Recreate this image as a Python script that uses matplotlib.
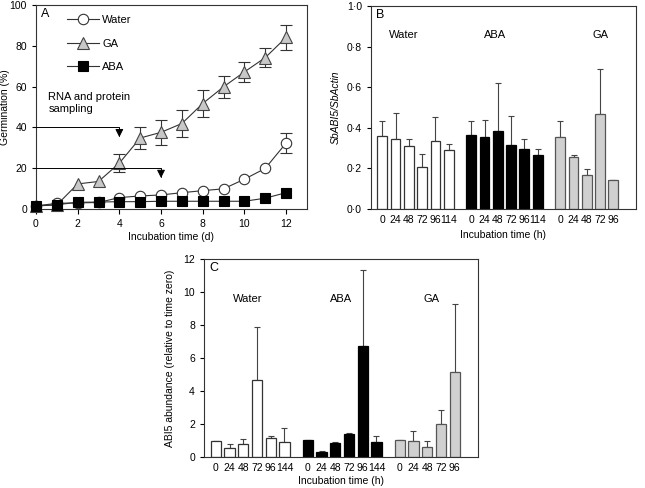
import numpy as np
import matplotlib
matplotlib.use("Agg")
import matplotlib.pyplot as plt
from matplotlib.ticker import FuncFormatter

plt.rcParams['font.family'] = ['Liberation Sans', 'DejaVu Sans']
plt.rcParams['font.size'] = 7.5

# ---- Panel A: germination time course ----
days = np.arange(13)
water_germ = [1.5, 2.8, 3.0, 3.2, 5.6, 6.4, 6.9, 8.0, 9.0, 9.9, 14.6, 19.9, 32.3]
water_germ_err = [0, 0, 0, 0, 0, 0, 0, 0, 0, 0, 0, 0, 4.8]
ga_germ = [1.5, 2.0, 12.3, 13.5, 22.5, 34.8, 37.6, 41.9, 51.7, 59.9, 67.2, 74.2, 84.1]
ga_germ_err = [0, 0, 0, 0, 4.5, 5.2, 6.0, 6.7, 6.7, 5.3, 4.7, 4.5, 6.0]
aba_germ = [1.6, 2.1, 3.3, 3.4, 3.6, 3.6, 3.8, 3.8, 3.8, 3.8, 3.8, 5.3, 8.0]

# ---- Panel B: SbABI5 transcript ----
b_water_labels = ['0', '24', '48', '72', '96', '114']
b_water = [0.358, 0.347, 0.309, 0.205, 0.336, 0.289]
b_water_top = [0.432, 0.475, 0.343, 0.272, 0.452, 0.322]
b_aba_labels = ['0', '24', '48', '72', '96', '114']
b_aba = [0.363, 0.353, 0.384, 0.317, 0.296, 0.266]
b_aba_top = [0.432, 0.437, 0.620, 0.460, 0.343, 0.294]
b_ga_labels = ['0', '24', '48', '72', '96']
b_ga = [0.356, 0.256, 0.167, 0.466, 0.145]
b_ga_top = [0.433, 0.264, 0.195, 0.688, 0.145]

# ---- Panel C: ABI5 protein ----
c_water_labels = ['0', '24', '48', '72', '96', '144']
c_water = [0.97, 0.55, 0.79, 4.67, 1.15, 0.91]
c_water_top = [0.97, 0.80, 1.09, 7.88, 1.27, 1.76]
c_aba_labels = ['0', '24', '48', '72', '96', '144']
c_aba = [1.03, 0.32, 0.85, 1.41, 6.71, 0.91]
c_aba_top = [1.03, 0.38, 0.89, 1.47, 11.31, 1.25]
c_ga_labels = ['0', '24', '48', '72', '96']
c_ga = [1.01, 0.97, 0.59, 2.0, 5.17]
c_ga_top = [1.01, 1.58, 0.98, 2.85, 9.29]

group_names = ['Water', 'ABA', 'GA']
group_starts = [0, 6.7, 13.4]
group_fills = ['white', 'black', '#d0d0d0']
group_edges = ['#333333', 'black', '#555555']

fig = plt.figure(figsize=(6.45, 4.88), dpi=100)
axA = fig.add_axes([0.0558, 0.5717, 0.420, 0.418])
axB = fig.add_axes([0.575, 0.5717, 0.411, 0.416])
axC = fig.add_axes([0.3163, 0.0635, 0.4248, 0.4057])

# Panel A
ga_err = np.array(ga_germ_err)
w_err = np.array(water_germ_err)
m = ga_err > 0
axA.errorbar(days[m], np.array(ga_germ)[m], yerr=ga_err[m], fmt='none',
             ecolor='#333333', elinewidth=0.8, capsize=4, capthick=0.8, clip_on=False)
m = w_err > 0
axA.errorbar(days[m], np.array(water_germ)[m], yerr=w_err[m], fmt='none',
             ecolor='#333333', elinewidth=0.8, capsize=4, capthick=0.8, clip_on=False)
axA.plot(days, ga_germ, '-^', color='#333333', lw=0.8, mfc='#c8c8c8', mec='#444444',
         ms=8, mew=0.8, label='GA', clip_on=False, zorder=3)
axA.plot(days, water_germ, '-o', color='#333333', lw=0.8, mfc='white', mec='#333333',
         ms=7.5, mew=0.8, label='Water', clip_on=False, zorder=4)
axA.plot(days, aba_germ, '-s', color='#333333', lw=0.8, mfc='black', mec='black',
         ms=6.5, mew=0.8, label='ABA', clip_on=False, zorder=5)
h, l = axA.get_legend_handles_labels()
order = [1, 0, 2]
axA.legend([h[i] for i in order], [l[i] for i in order], loc='upper left',
           bbox_to_anchor=(0.113, 0.95), frameon=False, borderpad=0, borderaxespad=0,
           handlelength=2.9, handletextpad=0.3, labelspacing=1.2, fontsize=8)
axA.set_xlim(0, 13)
axA.set_ylim(0, 100)
axA.set_xticks(range(0, 13, 2))
axA.set_yticks(range(0, 101, 20))
axA.set_xlabel('Incubation time (d)', labelpad=2)
axA.set_ylabel('Germination (%)', labelpad=0, fontsize=7.5)
axA.text(0.6, 57.5, 'RNA and protein\nsampling', va='top', ha='left', fontsize=8, linespacing=1.3)
for xe, ye in [(4, 40), (6, 20)]:
    axA.annotate('', xy=(xe, ye - 4.8), xytext=(0, ye),
                 arrowprops=dict(arrowstyle='-|>', connectionstyle='angle,angleA=0,angleB=90,rad=0',
                                 color='black', lw=0.7, mutation_scale=12, shrinkA=0, shrinkB=0))
axA.text(0.02, 0.985, 'A', transform=axA.transAxes, va='top', ha='left', fontsize=9)


def bar_panel(ax, vals, tops, labels, ylim, yticks, label_pos):
    ticks, ticklabels = [], []
    for g in range(3):
        x = group_starts[g] + np.arange(len(vals[g]))
        v = np.array(vals[g])
        up = np.clip(np.array(tops[g]) - v, 0, None)
        ax.bar(x, v, width=0.74, color=group_fills[g], edgecolor=group_edges[g], linewidth=0.9, zorder=2)
        ax.errorbar(x, v, yerr=[np.zeros_like(up), up], fmt='none', ecolor='#444444',
                    elinewidth=0.8, capsize=2, capthick=0.8, zorder=1)
        ticks += list(x)
        ticklabels += labels[g]
        ax.text(label_pos[g][0], label_pos[g][1], group_names[g], ha='center', va='center', fontsize=8)
    ax.set_xticks(ticks)
    ax.set_xticklabels(ticklabels)
    ax.tick_params(axis='x', length=0, pad=4)
    ax.set_xlim(-0.86, 19.1)
    ax.set_ylim(*ylim)
    ax.set_yticks(yticks)
    ax.set_xlabel('Incubation time (h)', labelpad=4)


bar_panel(axB, [b_water, b_aba, b_ga], [b_water_top, b_aba_top, b_ga_top],
          [b_water_labels, b_aba_labels, b_ga_labels], (0, 1.0), np.arange(0, 1.01, 0.2),
          [(1.6, 0.857), (8.5, 0.857), (16.4, 0.857)])
axB.yaxis.set_major_formatter(FuncFormatter(lambda v, p: f"{v:.1f}".replace('.', '\u00b7')))
axB.set_ylabel('SbABI5/SbActin', style='italic', labelpad=4)
axB.text(0.02, 0.985, 'B', transform=axB.transAxes, va='top', ha='left', fontsize=9)

bar_panel(axC, [c_water, c_aba, c_ga], [c_water_top, c_aba_top, c_ga_top],
          [c_water_labels, c_aba_labels, c_ga_labels], (0, 12), range(0, 13, 2),
          [(2.3, 9.6), (9.1, 9.6), (15.7, 9.6)])
axC.xaxis.labelpad = 2.5
axC.set_ylabel('ABI5 abundance (relative to time zero)', labelpad=6)
axC.text(0.02, 0.985, 'C', transform=axC.transAxes, va='top', ha='left', fontsize=9)

for ax in (axA, axB, axC):
    for s in ax.spines.values():
        s.set_linewidth(0.8)
        s.set_color('#333333')
    ax.tick_params(axis='y', direction='out', length=3, width=0.8)

fig.savefig('out.png', dpi=100)
